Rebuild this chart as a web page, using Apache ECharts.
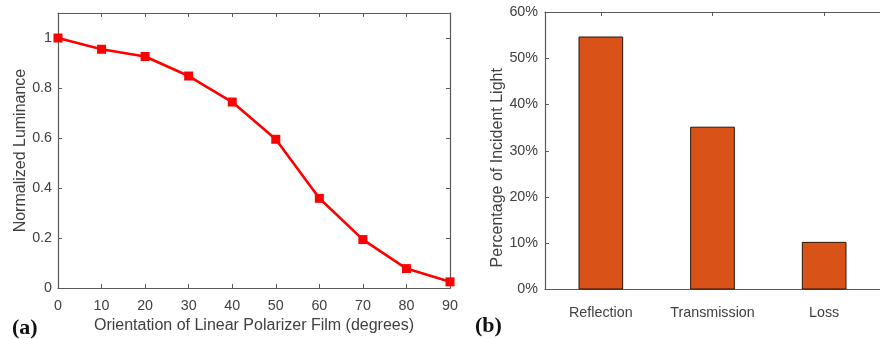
<!DOCTYPE html>
<html>
<head>
<meta charset="utf-8">
<script src="https://cdn.jsdelivr.net/npm/echarts@6/dist/echarts.min.js"></script>
<style>html,body{margin:0;padding:0;background:#fff}#c{width:880px;height:339px}</style>
</head>
<body>
<div id="c"></div>
<script>
const angles = [0, 10, 20, 30, 40, 50, 60, 70, 80, 90];
const luminance = [1.0, 0.955, 0.926, 0.848, 0.744, 0.595, 0.359, 0.194, 0.078, 0.025];
const categories = ['Reflection', 'Transmission', 'Loss'];
const percentages = [54.7, 35.2, 10.3];

const axisCol = '#5a5a5a';
const textCol = '#404040';
const font = 'Liberation Sans, Arial, sans-serif';

const chart = echarts.init(document.getElementById('c'), null, {renderer: 'canvas'});
const lineStyle = {color: axisCol, width: 1.2};
const axLine = {show: true, onZero: false, lineStyle: lineStyle};
const tickStyle = {show: true, inside: true, length: 4, lineStyle: {color: axisCol, width: 1}};

chart.setOption({
  animation: false,
  backgroundColor: '#fff',
  grid: [
    {left: 58, top: 13, width: 392, height: 277},
    {left: 545, top: 12, width: 342, height: 277.5}
  ],
  xAxis: [
    {gridIndex: 0, type: 'value', min: 0, max: 90, interval: 10,
     axisLine: axLine, axisTick: tickStyle, splitLine: {show: false},
     axisLabel: {color: textCol, fontSize: 14.3, fontFamily: font, margin: 11},
     name: 'Orientation of Linear Polarizer Film (degrees)', nameLocation: 'middle', nameGap: 29,
     nameTextStyle: {color: textCol, fontSize: 16, fontFamily: font}},
    {gridIndex: 0, type: 'value', min: 0, max: 90, interval: 10, position: 'top',
     axisLine: axLine, axisTick: tickStyle, axisLabel: {show: false}, splitLine: {show: false}},
    {gridIndex: 1, type: 'category', data: categories,
     axisLine: axLine, axisTick: {show: false}, splitLine: {show: false},
     axisLabel: {color: textCol, fontSize: 14.3, fontFamily: font, margin: 17}},
    {gridIndex: 1, type: 'category', data: categories, position: 'top',
     axisLine: axLine, axisTick: {show: true, inside: true, alignWithLabel: true, length: 4, lineStyle: {color: axisCol}},
     axisLabel: {show: false}, splitLine: {show: false}}
  ],
  yAxis: [
    {gridIndex: 0, type: 'value', min: 0, max: 1.1, interval: 0.2,
     axisLine: axLine, axisTick: tickStyle, splitLine: {show: false},
     axisLabel: {color: textCol, fontSize: 14.3, fontFamily: font, margin: 6,
       formatter: v => (v > 1.05 ? '' : (v === 1 ? '1' : (v === 0 ? '0' : String(+v.toFixed(1)))))},
     name: 'Normalized Luminance', nameLocation: 'middle', nameGap: 29,
     nameTextStyle: {color: textCol, fontSize: 16, fontFamily: font}},
    {gridIndex: 0, type: 'value', min: 0, max: 1.1, interval: 0.2, position: 'right',
     axisLine: axLine, axisTick: tickStyle, axisLabel: {show: false}, splitLine: {show: false}},
    {gridIndex: 1, type: 'value', min: 0, max: 60, interval: 10,
     axisLine: axLine, axisTick: tickStyle, splitLine: {show: false},
     axisLabel: {color: textCol, fontSize: 14.3, fontFamily: font, margin: 7, formatter: '{value}%'},
     name: 'Percentage of Incident Light', nameLocation: 'middle', nameGap: 38,
     nameTextStyle: {color: textCol, fontSize: 16, fontFamily: font, padding: [0, 34, 0, 0]}}
  ],
  series: [
    {type: 'line', xAxisIndex: 0, yAxisIndex: 0,
     data: angles.map((a, i) => [a, luminance[i]]),
     symbol: 'rect', symbolSize: 9,
     lineStyle: {color: '#ff0000', width: 2.6},
     itemStyle: {color: '#ff0000'}},
    {type: 'bar', xAxisIndex: 2, yAxisIndex: 2, data: percentages, barWidth: '40%',
     itemStyle: {color: '#d95319', borderColor: '#2a1508', borderWidth: 1}}
  ],
  graphic: [
    {type: 'text', left: 12, top: 317, style: {text: '(a)', fill: '#111', font: 'bold 22px "Liberation Serif", "Times New Roman", serif'}},
    {type: 'text', left: 475, top: 315, style: {text: '(b)', fill: '#111', font: 'bold 22px "Liberation Serif", "Times New Roman", serif'}}
  ]
});
</script>
</body>
</html>
